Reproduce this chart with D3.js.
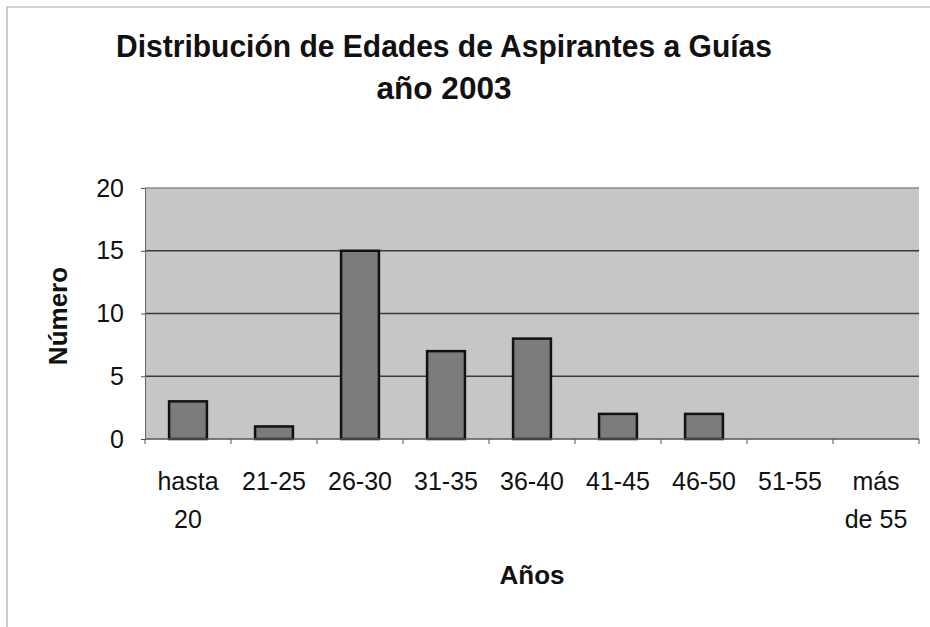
<!DOCTYPE html>
<html>
<head>
<meta charset="utf-8">
<script src="https://cdn.jsdelivr.net/npm/d3@7"></script>
<style>
  body { margin: 0; background: #fff; }
  svg { display: block; font-family: Arial, "Liberation Sans", sans-serif; }
</style>
</head>
<body>
<div id="chart"></div>
<script>
// data
const categories = ["hasta 20", "21-25", "26-30", "31-35", "36-40", "41-45", "46-50", "51-55", "más de 55"];
const labelLines = [["hasta", "20"], ["21-25"], ["26-30"], ["31-35"], ["36-40"], ["41-45"], ["46-50"], ["51-55"], ["más", "de 55"]];
const values = [3, 1, 15, 7, 8, 2, 2, 0, 0];
const yTicks = [0, 5, 10, 15, 20];
const titleLines = ["Distribución de Edades de Aspirantes a Guías", "año 2003"];

const width = 930, height = 627;
const plot = {left: 145, right: 919, top: 188, bottom: 439};

const svg = d3.select('#chart')
    .append('svg')
    .attr('width', width)
    .attr('height', height);

// chart border (light, dotted-ish)
svg.append('path')
    .attr('d', `M7,${height} L7,7 L${width},7`)
    .attr('fill', 'none')
    .attr('stroke', '#a8a8a8')
    .attr('stroke-width', 1.2);

// scales
let x = d3.scaleBand()
    .domain(categories)
    .range([plot.left, plot.right])
    .paddingInner(0.56)
    .paddingOuter(0.28);
let xEdge = d3.scaleBand()
    .domain(categories)
    .range([plot.left, plot.right]);
let y = d3.scaleLinear()
    .domain([0, 20])
    .range([plot.bottom, plot.top]);

// plot area
svg.append('rect')
    .attr('x', plot.left)
    .attr('y', plot.top)
    .attr('width', plot.right - plot.left)
    .attr('height', plot.bottom - plot.top)
    .attr('fill', '#c6c6c6');

// gridlines
svg.append('g')
    .selectAll('line')
    .data(yTicks.filter(d => d > 0))
    .enter()
    .append('line')
    .attr('x1', plot.left)
    .attr('x2', plot.right)
    .attr('y1', d => y(d))
    .attr('y2', d => y(d))
    .attr('stroke', d => d === 20 ? '#8a8a8a' : '#3a3a3a')
    .attr('stroke-width', 1.3);

// bars
svg.append('g')
    .selectAll('rect')
    .data(values.map((v, i) => ({cat: categories[i], value: v})).filter(d => d.value > 0))
    .enter()
    .append('rect')
    .attr('x', d => x(d.cat))
    .attr('y', d => y(d.value))
    .attr('width', x.bandwidth())
    .attr('height', d => y(0) - y(d.value))
    .attr('fill', '#7c7c7c')
    .attr('stroke', '#111')
    .attr('stroke-width', 2.5);

// y axis
const yAxis = svg.append('g')
    .attr('transform', `translate(${plot.left},0)`)
    .call(d3.axisLeft(y).tickValues(yTicks).tickSize(4).tickPadding(17).tickSizeOuter(0));
yAxis.select('.domain').attr('stroke', '#666');
yAxis.selectAll('.tick line').attr('stroke', '#555');
yAxis.selectAll('.tick text')
    .attr('font-size', 25)
    .attr('font-family', 'Arial, "Liberation Sans", sans-serif')
    .attr('fill', '#111');

// x axis line and boundary ticks
svg.append('line')
    .attr('x1', plot.left)
    .attr('x2', plot.right)
    .attr('y1', plot.bottom)
    .attr('y2', plot.bottom)
    .attr('stroke', '#555')
    .attr('stroke-width', 1.3);
svg.append('g')
    .selectAll('line')
    .data(categories.map(c => xEdge(c)).concat([plot.right]))
    .enter()
    .append('line')
    .attr('x1', d => d)
    .attr('x2', d => d)
    .attr('y1', plot.bottom)
    .attr('y2', plot.bottom + 5)
    .attr('stroke', '#555');

// x labels
const xLab = svg.append('g')
    .selectAll('text')
    .data(categories)
    .enter()
    .append('text')
    .attr('x', d => xEdge(d) + xEdge.bandwidth() / 2)
    .attr('y', 490)
    .attr('text-anchor', 'middle')
    .attr('font-size', 25)
    .attr('fill', '#111');
xLab.selectAll('tspan')
    .data((d, i) => labelLines[i])
    .enter()
    .append('tspan')
    .attr('x', function() { return this.parentNode.getAttribute('x'); })
    .attr('dy', (d, i) => i === 0 ? 0 : 38)
    .text(d => d);

// title
svg.append('g')
    .selectAll('text')
    .data(titleLines)
    .enter()
    .append('text')
    .attr('x', 444)
    .attr('y', (d, i) => i === 0 ? 57 : 99)
    .attr('text-anchor', 'middle')
    .attr('font-size', 32)
    .attr('font-weight', 'bold')
    .attr('fill', '#111')
    .attr('textLength', (d, i) => i === 0 ? 656 : 135)
    .attr('lengthAdjust', 'spacingAndGlyphs')
    .text(d => d);

// axis titles
svg.append('text')
    .attr('transform', 'translate(67,316) rotate(-90)')
    .attr('text-anchor', 'middle')
    .attr('font-size', 26)
    .attr('font-weight', 'bold')
    .attr('fill', '#111')
    .text('Número');

svg.append('text')
    .attr('x', 532)
    .attr('y', 584)
    .attr('text-anchor', 'middle')
    .attr('font-size', 26)
    .attr('font-weight', 'bold')
    .attr('fill', '#111')
    .text('Años');
</script>
</body>
</html>
